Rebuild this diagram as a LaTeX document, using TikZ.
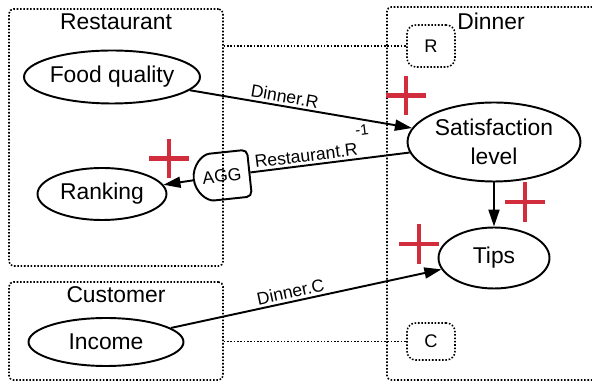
\documentclass[tikz,border=0pt]{standalone}
\usepackage{fontspec}
\setmainfont{Liberation Sans}
\usepackage{xcolor}
\usepackage{tikz}
\usetikzlibrary{shapes.geometric,shapes.misc,arrows.meta}

\definecolor{plusred}{RGB}{210,45,60}

\begin{document}
\begin{tikzpicture}[x=0.02cm, y=-0.02cm, line width=1.1pt,
            >={Triangle[length=3.4mm,width=2.2mm]},
            frame/.style={draw, line width=0.9pt, dash pattern=on 0.9pt off 1pt, rounded corners=2.5pt, inner sep=0pt},
            rolebox/.style={frame, rounded corners=5pt, minimum width=0.96cm, font=\fontsize{10.4}{12}\selectfont},
            link/.style={line width=0.9pt, dash pattern=on 0.9pt off 1pt},
            title/.style={inner sep=0pt, font=\fontsize{13}{16}\selectfont},
            ent/.style={shape=ellipse, draw, inner sep=0pt, align=center, font=\fontsize{13}{16.5}\selectfont},
            agg/.style={shape=rounded rectangle, rounded rectangle right arc=none, draw, rounded corners=3pt,
                        minimum width=1.12cm, minimum height=0.94cm, inner sep=0pt, font=\fontsize{10}{12}\selectfont},
            lbl/.style={inner sep=1.5pt, font=\fontsize{10}{12}\selectfont},
            plus/.style={cross out, draw=plusred, line width=2.6pt, rotate=45, minimum size=0.467cm, inner sep=0pt}]
        \useasboundingbox (0,0) rectangle (592,381);
        \clip (0,0) rectangle (592,381);

        \node[frame, minimum width=4.28cm, minimum height=5.14cm] (restaurant) at (116,137.5) {};
        \node[frame, minimum width=4.28cm, minimum height=1.96cm] (customer) at (116,331) {};
        \node[frame, minimum width=4.66cm, minimum height=7.46cm] (dinner) at (503.5,193.5) {};

        \node[title] (restaurantname) at (116,22) {Restaurant};
        \node[title] (customername) at (116,295) {Customer};
        \node[title] (dinnername) at (491,21) {Dinner};

        \node[rolebox, minimum height=0.84cm] (r) at (431,46) {R};
        \node[rolebox, minimum height=0.74cm] (c) at (431,341.5) {C};
        \draw[link] (restaurant.east |- r) -- (r.west);
        \draw[link] (customer.east |- c) -- (c.west);

        \node[ent, minimum width=3.48cm, minimum height=1.06cm] (food) at (112,77) {Food quality};
        \node[ent, minimum width=2.58cm, minimum height=1.04cm] (ranking) at (102,194) {Ranking};
        \node[ent, minimum width=3.1cm, minimum height=0.96cm] (income) at (106,342) {Income};
        \node[ent, minimum width=3.46cm, minimum height=1.58cm] (sat) at (494,142) {Satisfaction\\level};
        \node[ent, minimum width=2.22cm, minimum height=1.22cm] (tips) at (494,258) {Tips};
        \node[agg, rotate=6] (agg) at (222,176) {AGG};

        \draw[->] (food) -- node[lbl, sloped, above, pos=0.42]{Dinner.R} (sat);
        \draw (sat) -- node[lbl, sloped, above, pos=0.6]{Restaurant.R\raisebox{11pt}{\fontsize{8.5}{9}\selectfont -1}} (agg);
        \draw[->] (agg) -- (ranking);
        \draw[->] (sat) -- (tips);
        \draw[->] (income) -- node[lbl, sloped, above, pos=0.45]{Dinner.C} (tips);

        % signs
        \node[plus] (plusfood) at (406,95.5) {};
        \node[plus] (plusagg) at (169,158.5) {};
        \node[plus] (plussat) at (525,202) {};
        \node[plus] (plusincome) at (419,244) {};
    \end{tikzpicture}
\end{document}
